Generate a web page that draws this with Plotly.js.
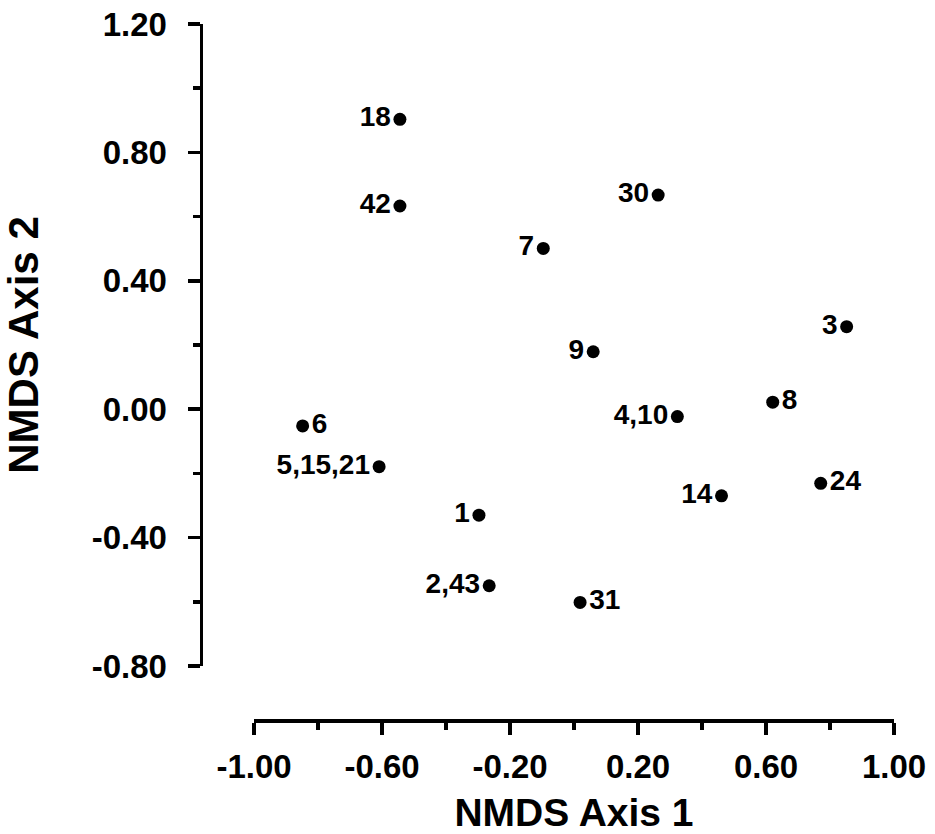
<!DOCTYPE html>
<html>
<head>
<meta charset="utf-8">
<script src="https://cdn.plot.ly/plotly-3.0.1.min.js"></script>
<style>html,body{margin:0;padding:0;background:#fff;}#chart{width:935px;height:834px;}</style>
</head>
<body>
<div id="chart"></div>
<script>
// Sample labels and NMDS coordinates
var labels = ["18", "42", "30", "7", "3", "9", "19", "8", "4,10", "6", "5,15,21", "24", "14", "1", "2,43", "31"];
var axis1 = [-0.544, -0.544, 0.263, -0.096, 0.852, 0.060, 1.008, 0.621, 0.323, -0.848, -0.609, 0.771, 0.461, -0.297, -0.265, 0.019];
var axis2 = [0.903, 0.633, 0.667, 0.501, 0.257, 0.179, 0.026, 0.022, -0.023, -0.052, -0.179, -0.231, -0.270, -0.330, -0.550, -0.602];
var labelSide = ["middle left", "middle left", "middle left", "middle left", "middle left", "middle left",
                 "middle right", "middle right", "middle left", "middle right", "middle left", "middle right",
                 "middle left", "middle left", "middle left", "middle right"];

// Tick values and labels (hyphen minus as in the reference)
var xTickVals = [-1.0, -0.6, -0.2, 0.2, 0.6, 1.0];
var xTickText = ["-1.00", "-0.60", "-0.20", "0.20", "0.60", "1.00"];
var yTickVals = [-0.8, -0.4, 0.0, 0.4, 0.8, 1.2];
var yTickText = ["-0.80", "-0.40", "0.00", "0.40", "0.80", "1.20"];

var xTitle = "NMDS Axis 1";
var yTitle = "NMDS Axis 2";

var W = 935, H = 834;
var fontFam = "Liberation Sans, Arial, sans-serif";

var trace = {
  x: axis1,
  y: axis2,
  text: labels,
  mode: "markers+text",
  type: "scatter",
  textposition: labelSide,
  cliponaxis: false,
  marker: {size: 13, color: "#000"},
  textfont: {family: fontFam, size: 28, color: "#000", weight: "bold"},
  hoverinfo: "x+y+text"
};

var layout = {
  width: W, height: H,
  margin: {l: 0, r: 0, t: 0, b: 0, pad: 0},
  paper_bgcolor: "#fff",
  plot_bgcolor: "rgba(0,0,0,0)",
  showlegend: false,
  font: {family: fontFam, color: "#000"},
  xaxis: {
    range: [-1, 1],
    domain: [254 / W, 894 / W],
    anchor: "free",
    position: 1 - 720 / H,
    showgrid: false, zeroline: false,
    showline: true, linewidth: 3.5, linecolor: "#000",
    ticks: "outside", ticklen: 12, tickwidth: 3.5, tickcolor: "#000",
    tickmode: "array", tickvals: xTickVals, ticktext: xTickText,
    ticklabelstandoff: 4,
    minor: {ticks: "outside", ticklen: 7, tickwidth: 3.5, tickcolor: "#000", tick0: -0.8, dtick: 0.4, showgrid: false},
    tickfont: {family: fontFam, size: 33, color: "#000", weight: "bold"},
    title: {text: xTitle, font: {family: fontFam, size: 39, color: "#000", weight: "bold"}, standoff: 14}
  },
  yaxis: {
    range: [-0.8, 1.2],
    domain: [1 - 666 / H, 1 - 24 / H],
    anchor: "free",
    position: 200.5 / W,
    showgrid: false, zeroline: false,
    showline: true, linewidth: 3.5, linecolor: "#000",
    ticks: "outside", ticklen: 12, tickwidth: 3.5, tickcolor: "#000",
    tickmode: "array", tickvals: yTickVals, ticktext: yTickText,
    ticklabelstandoff: 14,
    minor: {ticks: "outside", ticklen: 7, tickwidth: 3.5, tickcolor: "#000", tick0: 0.2, dtick: 0.4, showgrid: false},
    tickfont: {family: fontFam, size: 33, color: "#000", weight: "bold"},
    title: {text: yTitle, font: {family: fontFam, size: 42, color: "#000", weight: "bold"}, standoff: 40}
  }
};

Plotly.newPlot("chart", [trace], layout, {displayModeBar: false, staticPlot: true});
</script>
</body>
</html>
